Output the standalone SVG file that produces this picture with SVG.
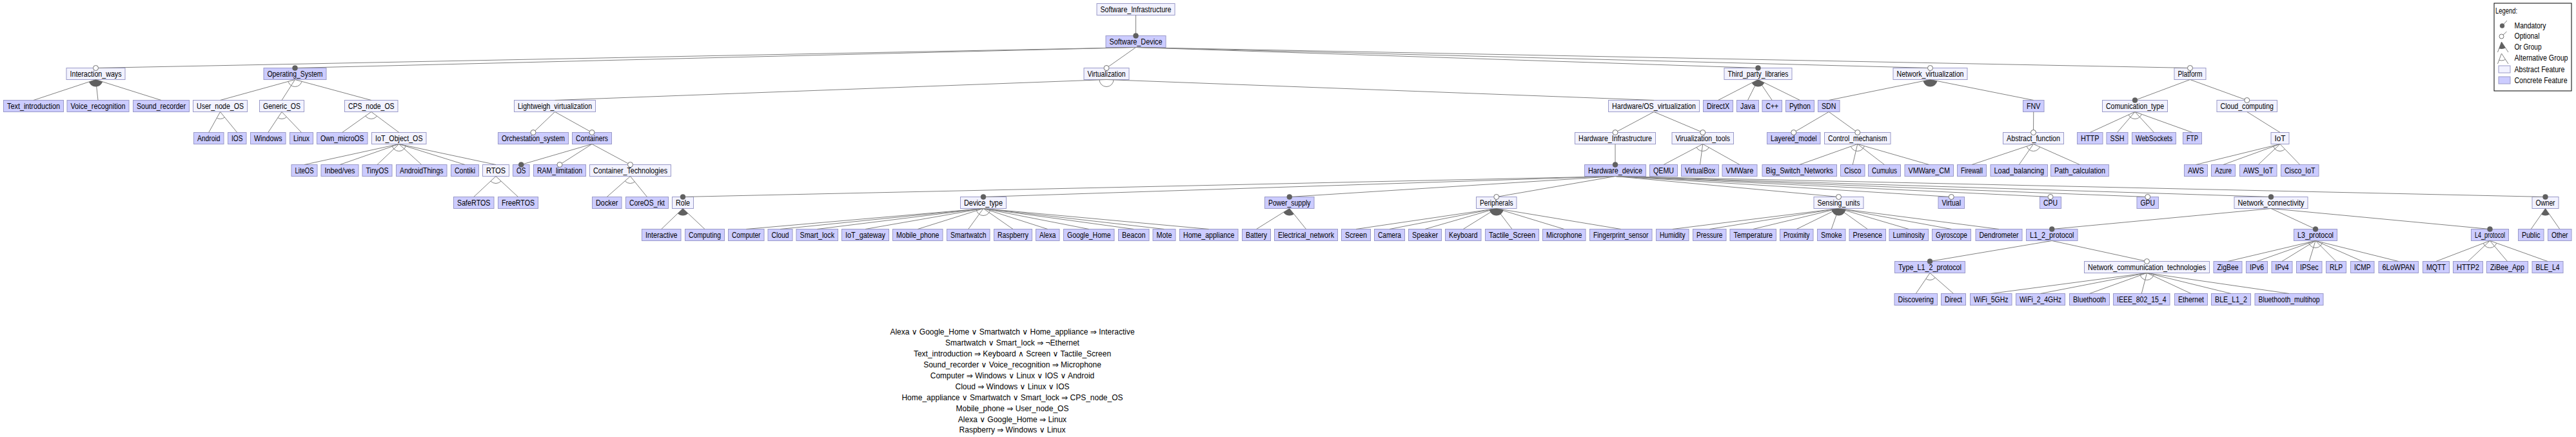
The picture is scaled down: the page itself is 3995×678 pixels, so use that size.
<svg xmlns="http://www.w3.org/2000/svg" width="3995" height="678" viewBox="0 0 3995 678">
<style>
.a{fill:#f2f2ff;stroke:#9a9ac8;stroke-width:1}
.c{fill:#ccccff;stroke:#9a9ac8;stroke-width:1}
text{font-family:"Liberation Sans","DejaVu Sans",Arial,sans-serif;font-size:12px;fill:#000}
.n text{text-anchor:middle}
.l{stroke:#808080;stroke-width:1;fill:none}
.m{fill:#606060;stroke:#606060;stroke-width:0.5}
.o{fill:#fff;stroke:#707070;stroke-width:1}
.or{fill:#606060;stroke:none}
.alt{fill:none;stroke:#808080;stroke-width:1}
.k text{text-anchor:middle}
</style>
<defs>
<clipPath id="k1"><polygon points="148.5,123.5 52,155.5 250,155.5"/></clipPath>
<clipPath id="k2"><polygon points="457.5,123.5 341.5,155.5 575.75,155.5"/></clipPath>
<clipPath id="k3"><polygon points="341.5,173.5 323.75,205.5 367.75,205.5"/></clipPath>
<clipPath id="k4"><polygon points="437,173.5 415.75,205.5 467.5,205.5"/></clipPath>
<clipPath id="k5"><polygon points="575.75,173.5 530.75,205.5 618.75,205.5"/></clipPath>
<clipPath id="k6"><polygon points="618.75,223.5 472,255.5 769,255.5"/></clipPath>
<clipPath id="k7"><polygon points="769,273.5 734.75,305.5 803.5,305.5"/></clipPath>
<clipPath id="k8"><polygon points="1716,123.5 860.5,155.5 2565,155.5"/></clipPath>
<clipPath id="k9"><polygon points="977.5,273.5 941.25,305.5 1003.5,305.5"/></clipPath>
<clipPath id="k10"><polygon points="2640.75,223.5 2580,255.5 2698,255.5"/></clipPath>
<clipPath id="k11"><polygon points="1059,323.5 1025.75,355.5 1093,355.5"/></clipPath>
<clipPath id="k12"><polygon points="1525,323.5 1157.25,355.5 1874.75,355.5"/></clipPath>
<clipPath id="k13"><polygon points="1999.75,323.5 1948.5,355.5 2025.5,355.5"/></clipPath>
<clipPath id="k14"><polygon points="2320.75,323.5 2103,355.5 2513.75,355.5"/></clipPath>
<clipPath id="k15"><polygon points="2851.5,323.5 2593.75,355.5 3100,355.5"/></clipPath>
<clipPath id="k16"><polygon points="2993,423.5 2971.25,455.5 3029.5,455.5"/></clipPath>
<clipPath id="k17"><polygon points="3329.5,423.5 3087.75,455.5 3550,455.5"/></clipPath>
<clipPath id="k18"><polygon points="3591,373.5 3455,405.5 3719.75,405.5"/></clipPath>
<clipPath id="k19"><polygon points="3861.5,373.5 3778,405.5 3951,405.5"/></clipPath>
<clipPath id="k20"><polygon points="3947.5,323.5 3925.25,355.5 3969.75,355.5"/></clipPath>
<clipPath id="k21"><polygon points="2726.5,123.5 2664.5,155.5 2791.5,155.5"/></clipPath>
<clipPath id="k22"><polygon points="2993.5,123.5 2836.25,155.5 3153.75,155.5"/></clipPath>
<clipPath id="k23"><polygon points="2880.75,223.5 2790.75,255.5 2991.75,255.5"/></clipPath>
<clipPath id="k24"><polygon points="3153.5,223.5 3058,255.5 3225.5,255.5"/></clipPath>
<clipPath id="k25"><polygon points="3536,223.5 3405.5,255.5 3566.75,255.5"/></clipPath>
<clipPath id="k26"><polygon points="3311,173.5 3241.25,205.5 3400,205.5"/></clipPath>
<clipPath id="kl1"><polygon points="3879.5,65 3873.5,81 3890,81"/></clipPath>
<clipPath id="kl2"><polygon points="3879.5,83 3873.5,99 3890,99"/></clipPath>
</defs>

<!-- nodes -->
<g id="n_Software_Infrastructure" class="n"><rect class="a" x="1701" y="5.5" width="121" height="18"/><text x="1761.5" y="18.5" textLength="110" lengthAdjust="spacingAndGlyphs">Software_Infrastructure</text></g>
<g id="n_Software_Device" class="n"><rect class="c" x="1715" y="55.5" width="93" height="18"/><text x="1761.5" y="68.5" textLength="82" lengthAdjust="spacingAndGlyphs">Software_Device</text></g>

<g id="n_Interaction_ways" class="n"><rect class="a" x="103" y="105.5" width="91" height="18"/><text x="148.5" y="118.5" textLength="80" lengthAdjust="spacingAndGlyphs">Interaction_ways</text></g>
<g id="n_Operating_System" class="n"><rect class="c" x="409" y="105.5" width="97" height="18"/><text x="457.5" y="118.5" textLength="86" lengthAdjust="spacingAndGlyphs">Operating_System</text></g>
<g id="n_Virtualization" class="n"><rect class="a" x="1681" y="105.5" width="70" height="18"/><text x="1716" y="118.5" textLength="59" lengthAdjust="spacingAndGlyphs">Virtualization</text></g>
<g id="n_Third_party_libraries" class="n"><rect class="a" x="2674" y="105.5" width="105" height="18"/><text x="2726.5" y="118.5" textLength="94" lengthAdjust="spacingAndGlyphs">Third_party_libraries</text></g>
<g id="n_Network_virtualization" class="n"><rect class="a" x="2936" y="105.5" width="115" height="18"/><text x="2993.5" y="118.5" textLength="104" lengthAdjust="spacingAndGlyphs">Network_virtualization</text></g>
<g id="n_Platform" class="n"><rect class="a" x="3372" y="105.5" width="49" height="18"/><text x="3396.5" y="118.5" textLength="38" lengthAdjust="spacingAndGlyphs">Platform</text></g>

<g id="n_Text_introduction" class="n"><rect class="c" x="5.5" y="155.5" width="93" height="18"/><text x="52" y="168.5" textLength="82" lengthAdjust="spacingAndGlyphs">Text_introduction</text></g>
<g id="n_Voice_recognition" class="n"><rect class="c" x="104" y="155.5" width="96" height="18"/><text x="152" y="168.5" textLength="85" lengthAdjust="spacingAndGlyphs">Voice_recognition</text></g>
<g id="n_Sound_recorder" class="n"><rect class="c" x="206.5" y="155.5" width="87" height="18"/><text x="250" y="168.5" textLength="76" lengthAdjust="spacingAndGlyphs">Sound_recorder</text></g>
<g id="n_User_node_OS" class="n"><rect class="a" x="299.5" y="155.5" width="84" height="18"/><text x="341.5" y="168.5" textLength="73" lengthAdjust="spacingAndGlyphs">User_node_OS</text></g>
<g id="n_Generic_OS" class="n"><rect class="a" x="402.5" y="155.5" width="69" height="18"/><text x="437" y="168.5" textLength="58" lengthAdjust="spacingAndGlyphs">Generic_OS</text></g>
<g id="n_CPS_node_OS" class="n"><rect class="a" x="534.5" y="155.5" width="82.5" height="18"/><text x="575.75" y="168.5" textLength="71.5" lengthAdjust="spacingAndGlyphs">CPS_node_OS</text></g>
<g id="n_Lightweigh_virtualization" class="n"><rect class="a" x="797.5" y="155.5" width="126" height="18"/><text x="860.5" y="168.5" textLength="115" lengthAdjust="spacingAndGlyphs">Lightweigh_virtualization</text></g>
<g id="n_Hardware_OS_virtualization" class="n"><rect class="a" x="2494.5" y="155.5" width="141" height="18"/><text x="2565" y="168.5" textLength="130" lengthAdjust="spacingAndGlyphs">Hardware/OS_virtualization</text></g>
<g id="n_DirectX" class="n"><rect class="c" x="2641.5" y="155.5" width="46" height="18"/><text x="2664.5" y="168.5" textLength="35" lengthAdjust="spacingAndGlyphs">DirectX</text></g>
<g id="n_Java" class="n"><rect class="c" x="2693.5" y="155.5" width="34" height="18"/><text x="2710.5" y="168.5" textLength="23" lengthAdjust="spacingAndGlyphs">Java</text></g>
<g id="n_Cpp" class="n"><rect class="c" x="2733" y="155.5" width="30.5" height="18"/><text x="2748.25" y="168.5" textLength="19.5" lengthAdjust="spacingAndGlyphs">C++</text></g>
<g id="n_Python" class="n"><rect class="c" x="2769.5" y="155.5" width="44" height="18"/><text x="2791.5" y="168.5" textLength="33" lengthAdjust="spacingAndGlyphs">Python</text></g>
<g id="n_SDN" class="n"><rect class="c" x="2819.5" y="155.5" width="33.5" height="18"/><text x="2836.25" y="168.5" textLength="22.5" lengthAdjust="spacingAndGlyphs">SDN</text></g>
<g id="n_FNV" class="n"><rect class="c" x="3137.5" y="155.5" width="32.5" height="18"/><text x="3153.75" y="168.5" textLength="21.5" lengthAdjust="spacingAndGlyphs">FNV</text></g>
<g id="n_Comunication_type" class="n"><rect class="a" x="3260.5" y="155.5" width="101" height="18"/><text x="3311" y="168.5" textLength="90" lengthAdjust="spacingAndGlyphs">Comunication_type</text></g>
<g id="n_Cloud_computing" class="n"><rect class="a" x="3438" y="155.5" width="93.5" height="18"/><text x="3484.75" y="168.5" textLength="82.5" lengthAdjust="spacingAndGlyphs">Cloud_computing</text></g>

<g id="n_Android" class="n"><rect class="c" x="300.5" y="205.5" width="46.5" height="18"/><text x="323.75" y="218.5" textLength="35.5" lengthAdjust="spacingAndGlyphs">Android</text></g>
<g id="n_IOS" class="n"><rect class="c" x="353.5" y="205.5" width="28.5" height="18"/><text x="367.75" y="218.5" textLength="17.5" lengthAdjust="spacingAndGlyphs">IOS</text></g>
<g id="n_Windows" class="n"><rect class="c" x="388.5" y="205.5" width="54.5" height="18"/><text x="415.75" y="218.5" textLength="43.5" lengthAdjust="spacingAndGlyphs">Windows</text></g>
<g id="n_Linux" class="n"><rect class="c" x="449.5" y="205.5" width="36" height="18"/><text x="467.5" y="218.5" textLength="25" lengthAdjust="spacingAndGlyphs">Linux</text></g>
<g id="n_Own_microOS" class="n"><rect class="c" x="491.5" y="205.5" width="78.5" height="18"/><text x="530.75" y="218.5" textLength="67.5" lengthAdjust="spacingAndGlyphs">Own_microOS</text></g>
<g id="n_IoT_Object_OS" class="n"><rect class="a" x="576.5" y="205.5" width="84.5" height="18"/><text x="618.75" y="218.5" textLength="73.5" lengthAdjust="spacingAndGlyphs">IoT_Object_OS</text></g>
<g id="n_Orchestation_system" class="n"><rect class="c" x="772.5" y="205.5" width="109" height="18"/><text x="827" y="218.5" textLength="98" lengthAdjust="spacingAndGlyphs">Orchestation_system</text></g>
<g id="n_Containers" class="n"><rect class="c" x="887.5" y="205.5" width="61" height="18"/><text x="918" y="218.5" textLength="50" lengthAdjust="spacingAndGlyphs">Containers</text></g>
<g id="n_Hardware_Infrastructure" class="n"><rect class="a" x="2442.5" y="205.5" width="125" height="18"/><text x="2505" y="218.5" textLength="114" lengthAdjust="spacingAndGlyphs">Hardware_Infrastructure</text></g>
<g id="n_Virualization_tools" class="n"><rect class="a" x="2593" y="205.5" width="95.5" height="18"/><text x="2640.75" y="218.5" textLength="84.5" lengthAdjust="spacingAndGlyphs">Virualization_tools</text></g>
<g id="n_Layered_model" class="n"><rect class="c" x="2740.5" y="205.5" width="82.5" height="18"/><text x="2781.75" y="218.5" textLength="71.5" lengthAdjust="spacingAndGlyphs">Layered_model</text></g>
<g id="n_Control_mechanism" class="n"><rect class="a" x="2829.5" y="205.5" width="102.5" height="18"/><text x="2880.75" y="218.5" textLength="91.5" lengthAdjust="spacingAndGlyphs">Control_mechanism</text></g>
<g id="n_Abstract_function" class="n"><rect class="a" x="3106.5" y="205.5" width="94" height="18"/><text x="3153.5" y="218.5" textLength="83" lengthAdjust="spacingAndGlyphs">Abstract_function</text></g>
<g id="n_HTTP" class="n"><rect class="c" x="3221.5" y="205.5" width="39.5" height="18"/><text x="3241.25" y="218.5" textLength="28.5" lengthAdjust="spacingAndGlyphs">HTTP</text></g>
<g id="n_SSH" class="n"><rect class="c" x="3267" y="205.5" width="33" height="18"/><text x="3283.5" y="218.5" textLength="22" lengthAdjust="spacingAndGlyphs">SSH</text></g>
<g id="n_WebSockets" class="n"><rect class="c" x="3306.5" y="205.5" width="68" height="18"/><text x="3340.5" y="218.5" textLength="57" lengthAdjust="spacingAndGlyphs">WebSockets</text></g>
<g id="n_FTP" class="n"><rect class="c" x="3385.5" y="205.5" width="29" height="18"/><text x="3400" y="218.5" textLength="18" lengthAdjust="spacingAndGlyphs">FTP</text></g>
<g id="n_IoT" class="n"><rect class="a" x="3522" y="205.5" width="28" height="18"/><text x="3536" y="218.5" textLength="17" lengthAdjust="spacingAndGlyphs">IoT</text></g>

<g id="n_LiteOS" class="n"><rect class="c" x="452" y="255.5" width="40" height="18"/><text x="472" y="268.5" textLength="29" lengthAdjust="spacingAndGlyphs">LiteOS</text></g>
<g id="n_MbedOS" class="n"><rect class="c" x="498" y="255.5" width="58" height="18"/><text x="527" y="268.5" textLength="47" lengthAdjust="spacingAndGlyphs">Inbed/ves</text></g>
<g id="n_TinyOS" class="n"><rect class="c" x="562" y="255.5" width="46" height="18"/><text x="585" y="268.5" textLength="35" lengthAdjust="spacingAndGlyphs">TinyOS</text></g>
<g id="n_AndroidThings" class="n"><rect class="c" x="614.5" y="255.5" width="78.5" height="18"/><text x="653.75" y="268.5" textLength="67.5" lengthAdjust="spacingAndGlyphs">AndroidThings</text></g>
<g id="n_Contiki" class="n"><rect class="c" x="699.5" y="255.5" width="43" height="18"/><text x="721" y="268.5" textLength="32" lengthAdjust="spacingAndGlyphs">Contiki</text></g>
<g id="n_RTOS" class="n"><rect class="a" x="748.5" y="255.5" width="41" height="18"/><text x="769" y="268.5" textLength="30" lengthAdjust="spacingAndGlyphs">RTOS</text></g>
<g id="n_OS" class="n"><rect class="c" x="795.5" y="255.5" width="25.5" height="18"/><text x="808.25" y="268.5" textLength="14.5" lengthAdjust="spacingAndGlyphs">OS</text></g>
<g id="n_RAM_limitation" class="n"><rect class="c" x="827.5" y="255.5" width="81" height="18"/><text x="868" y="268.5" textLength="70" lengthAdjust="spacingAndGlyphs">RAM_limitation</text></g>
<g id="n_Container_Technologies" class="n"><rect class="a" x="914.5" y="255.5" width="126" height="18"/><text x="977.5" y="268.5" textLength="115" lengthAdjust="spacingAndGlyphs">Container_Technologies</text></g>
<g id="n_Hardware_device" class="n"><rect class="c" x="2457.5" y="255.5" width="95" height="18"/><text x="2505" y="268.5" textLength="84" lengthAdjust="spacingAndGlyphs">Hardware_device</text></g>
<g id="n_QEMU" class="n"><rect class="c" x="2558.5" y="255.5" width="43" height="18"/><text x="2580" y="268.5" textLength="32" lengthAdjust="spacingAndGlyphs">QEMU</text></g>
<g id="n_VirtualBox" class="n"><rect class="c" x="2607.5" y="255.5" width="58" height="18"/><text x="2636.5" y="268.5" textLength="47" lengthAdjust="spacingAndGlyphs">VirtualBox</text></g>
<g id="n_VMWare" class="n"><rect class="c" x="2671" y="255.5" width="54" height="18"/><text x="2698" y="268.5" textLength="43" lengthAdjust="spacingAndGlyphs">VMWare</text></g>
<g id="n_Big_Switch_Networks" class="n"><rect class="c" x="2733" y="255.5" width="115.5" height="18"/><text x="2790.75" y="268.5" textLength="104.5" lengthAdjust="spacingAndGlyphs">Big_Switch_Networks</text></g>
<g id="n_Cisco" class="n"><rect class="c" x="2854.5" y="255.5" width="37.5" height="18"/><text x="2873.25" y="268.5" textLength="26.5" lengthAdjust="spacingAndGlyphs">Cisco</text></g>
<g id="n_Cumulus" class="n"><rect class="c" x="2897.5" y="255.5" width="50" height="18"/><text x="2922.5" y="268.5" textLength="39" lengthAdjust="spacingAndGlyphs">Cumulus</text></g>
<g id="n_VMWare_CM" class="n"><rect class="c" x="2954" y="255.5" width="75.5" height="18"/><text x="2991.75" y="268.5" textLength="64.5" lengthAdjust="spacingAndGlyphs">VMWare_CM</text></g>
<g id="n_Firewall" class="n"><rect class="c" x="3035.5" y="255.5" width="45" height="18"/><text x="3058" y="268.5" textLength="34" lengthAdjust="spacingAndGlyphs">Firewall</text></g>
<g id="n_Load_balancing" class="n"><rect class="c" x="3087" y="255.5" width="88.5" height="18"/><text x="3131.25" y="268.5" textLength="77.5" lengthAdjust="spacingAndGlyphs">Load_balancing</text></g>
<g id="n_Path_calculation" class="n"><rect class="c" x="3180.5" y="255.5" width="90" height="18"/><text x="3225.5" y="268.5" textLength="79" lengthAdjust="spacingAndGlyphs">Path_calculation</text></g>
<g id="n_AWS" class="n"><rect class="c" x="3387.5" y="255.5" width="36" height="18"/><text x="3405.5" y="268.5" textLength="25" lengthAdjust="spacingAndGlyphs">AWS</text></g>
<g id="n_Azure" class="n"><rect class="c" x="3429.5" y="255.5" width="37" height="18"/><text x="3448" y="268.5" textLength="26" lengthAdjust="spacingAndGlyphs">Azure</text></g>
<g id="n_AWS_IoT" class="n"><rect class="c" x="3473.5" y="255.5" width="57.5" height="18"/><text x="3502.25" y="268.5" textLength="46.5" lengthAdjust="spacingAndGlyphs">AWS_IoT</text></g>
<g id="n_Cisco_IoT" class="n"><rect class="c" x="3537.5" y="255.5" width="58.5" height="18"/><text x="3566.75" y="268.5" textLength="47.5" lengthAdjust="spacingAndGlyphs">Cisco_IoT</text></g>

<g id="n_SafeRTOS" class="n"><rect class="c" x="703.5" y="305.5" width="62.5" height="18"/><text x="734.75" y="318.5" textLength="51.5" lengthAdjust="spacingAndGlyphs">SafeRTOS</text></g>
<g id="n_FreeRTOS" class="n"><rect class="c" x="772.5" y="305.5" width="62" height="18"/><text x="803.5" y="318.5" textLength="51" lengthAdjust="spacingAndGlyphs">FreeRTOS</text></g>
<g id="n_Docker" class="n"><rect class="c" x="918.5" y="305.5" width="45.5" height="18"/><text x="941.25" y="318.5" textLength="34.5" lengthAdjust="spacingAndGlyphs">Docker</text></g>
<g id="n_CoreOS_rkt" class="n"><rect class="c" x="970.5" y="305.5" width="66" height="18"/><text x="1003.5" y="318.5" textLength="55" lengthAdjust="spacingAndGlyphs">CoreOS_rkt</text></g>
<g id="n_Role" class="n"><rect class="a" x="1042.5" y="305.5" width="33" height="18"/><text x="1059" y="318.5" textLength="22" lengthAdjust="spacingAndGlyphs">Role</text></g>
<g id="n_Device_type" class="n"><rect class="a" x="1489.5" y="305.5" width="71" height="18"/><text x="1525" y="318.5" textLength="60" lengthAdjust="spacingAndGlyphs">Device_type</text></g>
<g id="n_Power_supply" class="n"><rect class="c" x="1961.5" y="305.5" width="76.5" height="18"/><text x="1999.75" y="318.5" textLength="65.5" lengthAdjust="spacingAndGlyphs">Power_supply</text></g>
<g id="n_Peripherals" class="n"><rect class="a" x="2289.5" y="305.5" width="62.5" height="18"/><text x="2320.75" y="318.5" textLength="51.5" lengthAdjust="spacingAndGlyphs">Peripherals</text></g>
<g id="n_Sensing_units" class="n"><rect class="a" x="2813" y="305.5" width="77" height="18"/><text x="2851.5" y="318.5" textLength="66" lengthAdjust="spacingAndGlyphs">Sensing_units</text></g>
<g id="n_Virtual" class="n"><rect class="c" x="3006" y="305.5" width="40.5" height="18"/><text x="3026.25" y="318.5" textLength="29.5" lengthAdjust="spacingAndGlyphs">Virtual</text></g>
<g id="n_CPU" class="n"><rect class="c" x="3163.5" y="305.5" width="33" height="18"/><text x="3180" y="318.5" textLength="22" lengthAdjust="spacingAndGlyphs">CPU</text></g>
<g id="n_GPU" class="n"><rect class="c" x="3314" y="305.5" width="33.5" height="18"/><text x="3330.75" y="318.5" textLength="22.5" lengthAdjust="spacingAndGlyphs">GPU</text></g>
<g id="n_Network_connectivity" class="n"><rect class="a" x="3465" y="305.5" width="114" height="18"/><text x="3522" y="318.5" textLength="103" lengthAdjust="spacingAndGlyphs">Network_connectivity</text></g>
<g id="n_Owner" class="n"><rect class="a" x="3927" y="305.5" width="41" height="18"/><text x="3947.5" y="318.5" textLength="30" lengthAdjust="spacingAndGlyphs">Owner</text></g>

<g id="n_Interactive" class="n"><rect class="c" x="995.5" y="355.5" width="60.5" height="18"/><text x="1025.75" y="368.5" textLength="49.5" lengthAdjust="spacingAndGlyphs">Interactive</text></g>
<g id="n_Computing" class="n"><rect class="c" x="1062.5" y="355.5" width="61" height="18"/><text x="1093" y="368.5" textLength="50" lengthAdjust="spacingAndGlyphs">Computing</text></g>
<g id="n_Computer" class="n"><rect class="c" x="1129.5" y="355.5" width="55.5" height="18"/><text x="1157.25" y="368.5" textLength="44.5" lengthAdjust="spacingAndGlyphs">Computer</text></g>
<g id="n_Cloud" class="n"><rect class="c" x="1191" y="355.5" width="38" height="18"/><text x="1210" y="368.5" textLength="27" lengthAdjust="spacingAndGlyphs">Cloud</text></g>
<g id="n_Smart_lock" class="n"><rect class="c" x="1235" y="355.5" width="64.5" height="18"/><text x="1267.25" y="368.5" textLength="53.5" lengthAdjust="spacingAndGlyphs">Smart_lock</text></g>
<g id="n_IoT_gateway" class="n"><rect class="c" x="1305.5" y="355.5" width="73" height="18"/><text x="1342" y="368.5" textLength="62" lengthAdjust="spacingAndGlyphs">IoT_gateway</text></g>
<g id="n_Mobile_phone" class="n"><rect class="c" x="1384.5" y="355.5" width="77.5" height="18"/><text x="1423.25" y="368.5" textLength="66.5" lengthAdjust="spacingAndGlyphs">Mobile_phone</text></g>
<g id="n_Smartwatch" class="n"><rect class="c" x="1468.5" y="355.5" width="66.5" height="18"/><text x="1501.75" y="368.5" textLength="55.5" lengthAdjust="spacingAndGlyphs">Smartwatch</text></g>
<g id="n_Raspberry" class="n"><rect class="c" x="1541.5" y="355.5" width="59" height="18"/><text x="1571" y="368.5" textLength="48" lengthAdjust="spacingAndGlyphs">Raspberry</text></g>
<g id="n_Alexa" class="n"><rect class="c" x="1606.5" y="355.5" width="36.5" height="18"/><text x="1624.75" y="368.5" textLength="25.5" lengthAdjust="spacingAndGlyphs">Alexa</text></g>
<g id="n_Google_Home" class="n"><rect class="c" x="1649.5" y="355.5" width="78.5" height="18"/><text x="1688.75" y="368.5" textLength="67.5" lengthAdjust="spacingAndGlyphs">Google_Home</text></g>
<g id="n_Beacon" class="n"><rect class="c" x="1734.5" y="355.5" width="47.5" height="18"/><text x="1758.25" y="368.5" textLength="36.5" lengthAdjust="spacingAndGlyphs">Beacon</text></g>
<g id="n_Mote" class="n"><rect class="c" x="1788" y="355.5" width="35" height="18"/><text x="1805.5" y="368.5" textLength="24" lengthAdjust="spacingAndGlyphs">Mote</text></g>
<g id="n_Home_appliance" class="n"><rect class="c" x="1829.5" y="355.5" width="90.5" height="18"/><text x="1874.75" y="368.5" textLength="79.5" lengthAdjust="spacingAndGlyphs">Home_appliance</text></g>
<g id="n_Battery" class="n"><rect class="c" x="1926.5" y="355.5" width="44" height="18"/><text x="1948.5" y="368.5" textLength="33" lengthAdjust="spacingAndGlyphs">Battery</text></g>
<g id="n_Electrical_network" class="n"><rect class="c" x="1976.5" y="355.5" width="98" height="18"/><text x="2025.5" y="368.5" textLength="87" lengthAdjust="spacingAndGlyphs">Electrical_network</text></g>
<g id="n_Screen" class="n"><rect class="c" x="2080.5" y="355.5" width="45" height="18"/><text x="2103" y="368.5" textLength="34" lengthAdjust="spacingAndGlyphs">Screen</text></g>
<g id="n_Camera" class="n"><rect class="c" x="2131.5" y="355.5" width="47" height="18"/><text x="2155" y="368.5" textLength="36" lengthAdjust="spacingAndGlyphs">Camera</text></g>
<g id="n_Speaker" class="n"><rect class="c" x="2184.5" y="355.5" width="51" height="18"/><text x="2210" y="368.5" textLength="40" lengthAdjust="spacingAndGlyphs">Speaker</text></g>
<g id="n_Keyboard" class="n"><rect class="c" x="2241.5" y="355.5" width="55.5" height="18"/><text x="2269.25" y="368.5" textLength="44.5" lengthAdjust="spacingAndGlyphs">Keyboard</text></g>
<g id="n_Tactile_Screen" class="n"><rect class="c" x="2303.5" y="355.5" width="83" height="18"/><text x="2345" y="368.5" textLength="72" lengthAdjust="spacingAndGlyphs">Tactile_Screen</text></g>
<g id="n_Microphone" class="n"><rect class="c" x="2392.5" y="355.5" width="66.5" height="18"/><text x="2425.75" y="368.5" textLength="55.5" lengthAdjust="spacingAndGlyphs">Microphone</text></g>
<g id="n_Fingerprint_sensor" class="n"><rect class="c" x="2465.5" y="355.5" width="96.5" height="18"/><text x="2513.75" y="368.5" textLength="85.5" lengthAdjust="spacingAndGlyphs">Fingerprint_sensor</text></g>
<g id="n_Humidity" class="n"><rect class="c" x="2568.5" y="355.5" width="50.5" height="18"/><text x="2593.75" y="368.5" textLength="39.5" lengthAdjust="spacingAndGlyphs">Humidity</text></g>
<g id="n_Pressure" class="n"><rect class="c" x="2625.5" y="355.5" width="51.5" height="18"/><text x="2651.25" y="368.5" textLength="40.5" lengthAdjust="spacingAndGlyphs">Pressure</text></g>
<g id="n_Temperature" class="n"><rect class="c" x="2683" y="355.5" width="71.5" height="18"/><text x="2718.75" y="368.5" textLength="60.5" lengthAdjust="spacingAndGlyphs">Temperature</text></g>
<g id="n_Proximity" class="n"><rect class="c" x="2760.5" y="355.5" width="51.5" height="18"/><text x="2786.25" y="368.5" textLength="40.5" lengthAdjust="spacingAndGlyphs">Proximity</text></g>
<g id="n_Smoke" class="n"><rect class="c" x="2818.5" y="355.5" width="43.5" height="18"/><text x="2840.25" y="368.5" textLength="32.5" lengthAdjust="spacingAndGlyphs">Smoke</text></g>
<g id="n_Presence" class="n"><rect class="c" x="2868" y="355.5" width="56.5" height="18"/><text x="2896.25" y="368.5" textLength="45.5" lengthAdjust="spacingAndGlyphs">Presence</text></g>
<g id="n_Luminosity" class="n"><rect class="c" x="2930" y="355.5" width="60.5" height="18"/><text x="2960.25" y="368.5" textLength="49.5" lengthAdjust="spacingAndGlyphs">Luminosity</text></g>
<g id="n_Gyroscope" class="n"><rect class="c" x="2996.5" y="355.5" width="60" height="18"/><text x="3026.5" y="368.5" textLength="49" lengthAdjust="spacingAndGlyphs">Gyroscope</text></g>
<g id="n_Dendrometer" class="n"><rect class="c" x="3064" y="355.5" width="72" height="18"/><text x="3100" y="368.5" textLength="61" lengthAdjust="spacingAndGlyphs">Dendrometer</text></g>
<g id="n_L1_2_protocol" class="n"><rect class="c" x="3142.5" y="355.5" width="79.5" height="18"/><text x="3182.25" y="368.5" textLength="68.5" lengthAdjust="spacingAndGlyphs">L1_2_protocol</text></g>
<g id="n_L3_protocol" class="n"><rect class="c" x="3557.5" y="355.5" width="67" height="18"/><text x="3591" y="368.5" textLength="56" lengthAdjust="spacingAndGlyphs">L3_protocol</text></g>
<g id="n_L4_protocol" class="n"><rect class="c" x="3832.5" y="355.5" width="58" height="18"/><text x="3861.5" y="368.5" textLength="47" lengthAdjust="spacingAndGlyphs">L4_protocol</text></g>
<g id="n_Public" class="n"><rect class="c" x="3905.5" y="355.5" width="39.5" height="18"/><text x="3925.25" y="368.5" textLength="28.5" lengthAdjust="spacingAndGlyphs">Public</text></g>
<g id="n_Other" class="n"><rect class="c" x="3951.5" y="355.5" width="36.5" height="18"/><text x="3969.75" y="368.5" textLength="25.5" lengthAdjust="spacingAndGlyphs">Other</text></g>

<g id="n_Type_L1_2_protocol" class="n"><rect class="c" x="2938.5" y="405.5" width="109" height="18"/><text x="2993" y="418.5" textLength="98" lengthAdjust="spacingAndGlyphs">Type_L1_2_protocol</text></g>
<g id="n_Network_communication_technologies" class="n"><rect class="a" x="3232.5" y="405.5" width="194" height="18"/><text x="3329.5" y="418.5" textLength="183" lengthAdjust="spacingAndGlyphs">Network_communication_technologies</text></g>
<g id="n_ZigBee" class="n"><rect class="c" x="3433" y="405.5" width="44" height="18"/><text x="3455" y="418.5" textLength="33" lengthAdjust="spacingAndGlyphs">ZigBee</text></g>
<g id="n_IPv6" class="n"><rect class="c" x="3483.5" y="405.5" width="33" height="18"/><text x="3500" y="418.5" textLength="22" lengthAdjust="spacingAndGlyphs">IPv6</text></g>
<g id="n_IPv4" class="n"><rect class="c" x="3523" y="405.5" width="32" height="18"/><text x="3539" y="418.5" textLength="21" lengthAdjust="spacingAndGlyphs">IPv4</text></g>
<g id="n_IPSec" class="n"><rect class="c" x="3561.5" y="405.5" width="39.5" height="18"/><text x="3581.25" y="418.5" textLength="28.5" lengthAdjust="spacingAndGlyphs">IPSec</text></g>
<g id="n_RLP" class="n"><rect class="c" x="3607.5" y="405.5" width="31" height="18"/><text x="3623" y="418.5" textLength="20" lengthAdjust="spacingAndGlyphs">RLP</text></g>
<g id="n_ICMP" class="n"><rect class="c" x="3645.5" y="405.5" width="36.5" height="18"/><text x="3663.75" y="418.5" textLength="25.5" lengthAdjust="spacingAndGlyphs">ICMP</text></g>
<g id="n_6LoWPAN" class="n"><rect class="c" x="3689" y="405.5" width="61.5" height="18"/><text x="3719.75" y="418.5" textLength="50.5" lengthAdjust="spacingAndGlyphs">6LoWPAN</text></g>
<g id="n_MQTT" class="n"><rect class="c" x="3757.5" y="405.5" width="41" height="18"/><text x="3778" y="418.5" textLength="30" lengthAdjust="spacingAndGlyphs">MQTT</text></g>
<g id="n_HTTP2" class="n"><rect class="c" x="3804.5" y="405.5" width="46" height="18"/><text x="3827.5" y="418.5" textLength="35" lengthAdjust="spacingAndGlyphs">HTTP2</text></g>
<g id="n_ZiBee_App" class="n"><rect class="c" x="3856.5" y="405.5" width="64" height="18"/><text x="3888.5" y="418.5" textLength="53" lengthAdjust="spacingAndGlyphs">ZiBee_App</text></g>
<g id="n_BLE_L4" class="n"><rect class="c" x="3927" y="405.5" width="48" height="18"/><text x="3951" y="418.5" textLength="37" lengthAdjust="spacingAndGlyphs">BLE_L4</text></g>

<g id="n_Discovering" class="n"><rect class="c" x="2938" y="455.5" width="66.5" height="18"/><text x="2971.25" y="468.5" textLength="55.5" lengthAdjust="spacingAndGlyphs">Discovering</text></g>
<g id="n_Direct" class="n"><rect class="c" x="3010.5" y="455.5" width="38" height="18"/><text x="3029.5" y="468.5" textLength="27" lengthAdjust="spacingAndGlyphs">Direct</text></g>
<g id="n_WiFi_5GHz" class="n"><rect class="c" x="3055.5" y="455.5" width="64.5" height="18"/><text x="3087.75" y="468.5" textLength="53.5" lengthAdjust="spacingAndGlyphs">WiFi_5GHz</text></g>
<g id="n_WiFi_2_4GHz" class="n"><rect class="c" x="3126.5" y="455.5" width="76" height="18"/><text x="3164.5" y="468.5" textLength="65" lengthAdjust="spacingAndGlyphs">WiFi_2_4GHz</text></g>
<g id="n_Bluethooth" class="n"><rect class="c" x="3209.5" y="455.5" width="62" height="18"/><text x="3240.5" y="468.5" textLength="51" lengthAdjust="spacingAndGlyphs">Bluethooth</text></g>
<g id="n_IEEE_802_15_4" class="n"><rect class="c" x="3277.5" y="455.5" width="87.5" height="18"/><text x="3321.25" y="468.5" textLength="76.5" lengthAdjust="spacingAndGlyphs">IEEE_802_15_4</text></g>
<g id="n_Ethernet" class="n"><rect class="c" x="3372.5" y="455.5" width="51" height="18"/><text x="3398" y="468.5" textLength="40" lengthAdjust="spacingAndGlyphs">Ethernet</text></g>
<g id="n_BLE_L1_2" class="n"><rect class="c" x="3429.5" y="455.5" width="61" height="18"/><text x="3460" y="468.5" textLength="50" lengthAdjust="spacingAndGlyphs">BLE_L1_2</text></g>
<g id="n_Bluethooth_multihop" class="n"><rect class="c" x="3497" y="455.5" width="106" height="18"/><text x="3550" y="468.5" textLength="95" lengthAdjust="spacingAndGlyphs">Bluethooth_multihop</text></g>

<!-- connectors -->
<g id="connectors">
<path class="l" d="M1761.5 23.5L1761.5 55.5
M1761.5 73.5L148.5 105.5M1761.5 73.5L457.5 105.5M1761.5 73.5L1716 105.5M1761.5 73.5L2726.5 105.5M1761.5 73.5L2993.5 105.5M1761.5 73.5L3396.5 105.5
M148.5 123.5L52 155.5M148.5 123.5L152 155.5M148.5 123.5L250 155.5
M457.5 123.5L341.5 155.5M457.5 123.5L437 155.5M457.5 123.5L575.75 155.5
M341.5 173.5L323.75 205.5M341.5 173.5L367.75 205.5
M437 173.5L415.75 205.5M437 173.5L467.5 205.5
M575.75 173.5L530.75 205.5M575.75 173.5L618.75 205.5
M618.75 223.5L472 255.5M618.75 223.5L527 255.5M618.75 223.5L585 255.5M618.75 223.5L653.75 255.5M618.75 223.5L721 255.5M618.75 223.5L769 255.5
M769 273.5L734.75 305.5M769 273.5L803.5 305.5
M1716 123.5L860.5 155.5M1716 123.5L2565 155.5
M860.5 173.5L827 205.5M860.5 173.5L918 205.5
M918 223.5L808.25 255.5M918 223.5L868 255.5M918 223.5L977.5 255.5
M977.5 273.5L941.25 305.5M977.5 273.5L1003.5 305.5
M2565 173.5L2505 205.5M2565 173.5L2640.75 205.5
M2505 223.5L2505 255.5
M2640.75 223.5L2580 255.5M2640.75 223.5L2636.5 255.5M2640.75 223.5L2698 255.5
M2505 273.5L1059 305.5M2505 273.5L1525 305.5M2505 273.5L1999.75 305.5M2505 273.5L2320.75 305.5M2505 273.5L2851.5 305.5M2505 273.5L3026.25 305.5M2505 273.5L3180 305.5M2505 273.5L3330.75 305.5M2505 273.5L3522 305.5M2505 273.5L3947.5 305.5
M1059 323.5L1025.75 355.5M1059 323.5L1093 355.5
M1525 323.5L1157.25 355.5M1525 323.5L1210 355.5M1525 323.5L1267.25 355.5M1525 323.5L1342 355.5M1525 323.5L1423.25 355.5M1525 323.5L1501.75 355.5M1525 323.5L1571 355.5M1525 323.5L1624.75 355.5M1525 323.5L1688.75 355.5M1525 323.5L1758.25 355.5M1525 323.5L1805.5 355.5M1525 323.5L1874.75 355.5
M1999.75 323.5L1948.5 355.5M1999.75 323.5L2025.5 355.5
M2320.75 323.5L2103 355.5M2320.75 323.5L2155 355.5M2320.75 323.5L2210 355.5M2320.75 323.5L2269.25 355.5M2320.75 323.5L2345 355.5M2320.75 323.5L2425.75 355.5M2320.75 323.5L2513.75 355.5
M2851.5 323.5L2593.75 355.5M2851.5 323.5L2651.25 355.5M2851.5 323.5L2718.75 355.5M2851.5 323.5L2786.25 355.5M2851.5 323.5L2840.25 355.5M2851.5 323.5L2896.25 355.5M2851.5 323.5L2960.25 355.5M2851.5 323.5L3026.5 355.5M2851.5 323.5L3100 355.5
M3522 323.5L3182.25 355.5M3522 323.5L3591 355.5M3522 323.5L3861.5 355.5
M3947.5 323.5L3925.25 355.5M3947.5 323.5L3969.75 355.5
M3182.25 373.5L2993 405.5M3182.25 373.5L3329.5 405.5
M3591 373.5L3455 405.5M3591 373.5L3500 405.5M3591 373.5L3539 405.5M3591 373.5L3581.25 405.5M3591 373.5L3623 405.5M3591 373.5L3663.75 405.5M3591 373.5L3719.75 405.5
M3861.5 373.5L3778 405.5M3861.5 373.5L3827.5 405.5M3861.5 373.5L3888.5 405.5M3861.5 373.5L3951 405.5
M2993 423.5L2971.25 455.5M2993 423.5L3029.5 455.5
M3329.5 423.5L3087.75 455.5M3329.5 423.5L3164.5 455.5M3329.5 423.5L3240.5 455.5M3329.5 423.5L3321.25 455.5M3329.5 423.5L3398 455.5M3329.5 423.5L3460 455.5M3329.5 423.5L3550 455.5
M2726.5 123.5L2664.5 155.5M2726.5 123.5L2710.5 155.5M2726.5 123.5L2748.25 155.5M2726.5 123.5L2791.5 155.5
M2993.5 123.5L2836.25 155.5M2993.5 123.5L3153.75 155.5
M2836.25 173.5L2781.75 205.5M2836.25 173.5L2880.75 205.5
M3153.75 173.5L3153.5 205.5
M2880.75 223.5L2790.75 255.5M2880.75 223.5L2873.25 255.5M2880.75 223.5L2922.5 255.5M2880.75 223.5L2991.75 255.5
M3153.5 223.5L3058 255.5M3153.5 223.5L3131.25 255.5M3153.5 223.5L3225.5 255.5
M3396.5 123.5L3311 155.5M3396.5 123.5L3484.75 155.5
M3311 173.5L3241.25 205.5M3311 173.5L3283.5 205.5M3311 173.5L3340.5 205.5M3311 173.5L3400 205.5
M3484.75 173.5L3536 205.5
M3536 223.5L3405.5 255.5M3536 223.5L3448 255.5M3536 223.5L3502.25 255.5M3536 223.5L3566.75 255.5"/>
<!-- group arcs -->
<circle class="or" cx="148.5" cy="123.5" r="11" clip-path="url(#k1)"/>
<circle class="alt" cx="457.5" cy="123.5" r="11" clip-path="url(#k2)"/>
<circle class="alt" cx="341.5" cy="173.5" r="11" clip-path="url(#k3)"/>
<circle class="alt" cx="437" cy="173.5" r="11" clip-path="url(#k4)"/>
<circle class="alt" cx="575.75" cy="173.5" r="11" clip-path="url(#k5)"/>
<circle class="alt" cx="618.75" cy="223.5" r="11" clip-path="url(#k6)"/>
<circle class="alt" cx="769" cy="273.5" r="11" clip-path="url(#k7)"/>
<circle class="alt" cx="1716" cy="123.5" r="11" clip-path="url(#k8)"/>
<circle class="alt" cx="977.5" cy="273.5" r="11" clip-path="url(#k9)"/>
<circle class="alt" cx="2640.75" cy="223.5" r="11" clip-path="url(#k10)"/>
<circle class="or" cx="1059" cy="323.5" r="11" clip-path="url(#k11)"/>
<circle class="alt" cx="1525" cy="323.5" r="11" clip-path="url(#k12)"/>
<circle class="or" cx="1999.75" cy="323.5" r="11" clip-path="url(#k13)"/>
<circle class="or" cx="2320.75" cy="323.5" r="11" clip-path="url(#k14)"/>
<circle class="or" cx="2851.5" cy="323.5" r="11" clip-path="url(#k15)"/>
<circle class="alt" cx="2993" cy="423.5" r="11" clip-path="url(#k16)"/>
<circle class="alt" cx="3329.5" cy="423.5" r="11" clip-path="url(#k17)"/>
<circle class="alt" cx="3591" cy="373.5" r="11" clip-path="url(#k18)"/>
<circle class="alt" cx="3861.5" cy="373.5" r="11" clip-path="url(#k19)"/>
<circle class="or" cx="3947.5" cy="323.5" r="11" clip-path="url(#k20)"/>
<circle class="or" cx="2726.5" cy="123.5" r="11" clip-path="url(#k21)"/>
<circle class="or" cx="2993.5" cy="123.5" r="11" clip-path="url(#k22)"/>
<circle class="alt" cx="2880.75" cy="223.5" r="11" clip-path="url(#k23)"/>
<circle class="alt" cx="3153.5" cy="223.5" r="11" clip-path="url(#k24)"/>
<circle class="alt" cx="3536" cy="223.5" r="11" clip-path="url(#k25)"/>
<circle class="alt" cx="3311" cy="173.5" r="11" clip-path="url(#k26)"/>
<!-- mandatory -->
<circle class="m" cx="1761.5" cy="55.5" r="4"/>
<circle class="m" cx="457.5" cy="105.5" r="4"/>
<circle class="m" cx="2726.5" cy="105.5" r="4"/>
<circle class="m" cx="808.25" cy="255.5" r="4"/>
<circle class="m" cx="2505" cy="255.5" r="4"/>
<circle class="m" cx="1059" cy="305.5" r="4"/>
<circle class="m" cx="1525" cy="305.5" r="4"/>
<circle class="m" cx="1999.75" cy="305.5" r="4"/>
<circle class="m" cx="3522" cy="305.5" r="4"/>
<circle class="m" cx="3947.5" cy="305.5" r="4"/>
<circle class="m" cx="3182.25" cy="355.5" r="4"/>
<circle class="m" cx="3591" cy="355.5" r="4"/>
<circle class="m" cx="3861.5" cy="355.5" r="4"/>
<circle class="m" cx="2993" cy="405.5" r="4"/>
<circle class="m" cx="3311" cy="155.5" r="4"/>
<!-- optional -->
<circle class="o" cx="148.5" cy="105.5" r="4"/>
<circle class="o" cx="1716" cy="105.5" r="4"/>
<circle class="o" cx="2993.5" cy="105.5" r="4"/>
<circle class="o" cx="3396.5" cy="105.5" r="4"/>
<circle class="o" cx="827" cy="205.5" r="4"/>
<circle class="o" cx="918" cy="205.5" r="4"/>
<circle class="o" cx="868" cy="255.5" r="4"/>
<circle class="o" cx="977.5" cy="255.5" r="4"/>
<circle class="o" cx="2505" cy="205.5" r="4"/>
<circle class="o" cx="2640.75" cy="205.5" r="4"/>
<circle class="o" cx="2781.75" cy="205.5" r="4"/>
<circle class="o" cx="2880.75" cy="205.5" r="4"/>
<circle class="o" cx="3153.5" cy="205.5" r="4"/>
<circle class="o" cx="3484.75" cy="155.5" r="4"/>
<circle class="o" cx="2320.75" cy="305.5" r="4"/>
<circle class="o" cx="2851.5" cy="305.5" r="4"/>
<circle class="o" cx="3026.25" cy="305.5" r="4"/>
<circle class="o" cx="3180" cy="305.5" r="4"/>
<circle class="o" cx="3330.75" cy="305.5" r="4"/>
<circle class="o" cx="3329.5" cy="405.5" r="4"/>
</g>

<!-- constraints -->
<g id="constraints" class="k">
<text x="1570" y="518.5">Alexa ∨ Google_Home ∨ Smartwatch ∨ Home_appliance ⇒ Interactive</text>
<text x="1570" y="535.5">Smartwatch ∨ Smart_lock ⇒ ¬Ethernet</text>
<text x="1570" y="552.5">Text_introduction ⇒ Keyboard ∧ Screen ∨ Tactile_Screen</text>
<text x="1570" y="569.5">Sound_recorder ∨ Voice_recognition ⇒ Microphone</text>
<text x="1570" y="586.5">Computer ⇒ Windows ∨ Linux ∨ IOS ∨ Android</text>
<text x="1570" y="603.5">Cloud ⇒ Windows ∨ Linux ∨ IOS</text>
<text x="1570" y="620.5">Home_appliance ∨ Smartwatch ∨ Smart_lock ⇒ CPS_node_OS</text>
<text x="1570" y="637.5">Mobile_phone ⇒ User_node_OS</text>
<text x="1570" y="654.5">Alexa ∨ Google_Home ⇒ Linux</text>
<text x="1570" y="671">Raspberry ⇒ Windows ∨ Linux</text>
</g>

<!-- legend -->
<g id="legend">
<rect x="3868" y="5" width="120" height="136" fill="#fff" stroke="#000" stroke-width="1"/>
<text x="3870" y="21" textLength="34" lengthAdjust="spacingAndGlyphs">Legend:</text>
<line class="l" x1="3880.5" y1="40" x2="3888" y2="32"/>
<circle class="m" cx="3880.5" cy="40" r="3.5"/>
<text x="3899.5" y="43.5" textLength="49" lengthAdjust="spacingAndGlyphs">Mandatory</text>
<line class="l" x1="3879.5" y1="56.5" x2="3887.5" y2="49"/>
<circle class="o" cx="3879.5" cy="56.5" r="3.5"/>
<text x="3899.5" y="60" textLength="39" lengthAdjust="spacingAndGlyphs">Optional</text>
<path class="l" d="M3873.5 81L3879.5 65L3890 81"/>
<circle class="or" cx="3879.5" cy="65" r="11" clip-path="url(#kl1)"/>
<text x="3899.5" y="77" textLength="42" lengthAdjust="spacingAndGlyphs">Or Group</text>
<path class="l" d="M3873.5 99L3879.5 83L3890 99"/>
<circle class="alt" cx="3879.5" cy="83" r="11" clip-path="url(#kl2)"/>
<text x="3899.5" y="94" textLength="83" lengthAdjust="spacingAndGlyphs">Alternative Group</text>
<rect class="a" x="3875" y="102" width="18" height="11"/>
<text x="3899.5" y="111.5" textLength="78" lengthAdjust="spacingAndGlyphs">Abstract Feature</text>
<rect class="c" x="3875" y="119" width="18" height="11"/>
<text x="3899.5" y="128.5" textLength="82" lengthAdjust="spacingAndGlyphs">Concrete Feature</text>
</g>
</svg>
